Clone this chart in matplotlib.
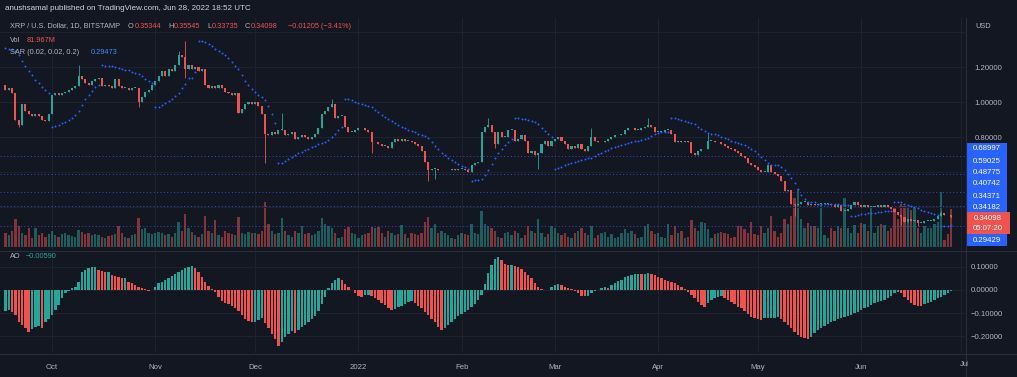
import numpy as np
import pandas as pd
import matplotlib
matplotlib.use('Agg')
import matplotlib.pyplot as plt
import matplotlib.dates as mdates
from matplotlib.patches import Rectangle
from matplotlib.lines import Line2D
from matplotlib.transforms import Bbox

# ---- data (XRP/USD daily, Bitstamp) ----
start_day = '2021-09-17'
first_open = 1.10
last_open = 0.35344

close_sep = [1.07, 1.08, 1.05, 0.90, 0.87, 0.99, 0.95, 0.93, 0.92, 0.93, 0.92, 0.90, 0.89, 0.93]
close_oct = [1.04, 1.05, 1.04, 1.05, 1.06, 1.07, 1.08, 1.09, 1.15, 1.13, 1.11, 1.10, 1.12, 1.13, 1.14, 1.09,
             1.10, 1.09, 1.08, 1.13, 1.09, 1.08, 1.08, 1.07, 1.08, 1.08, 1.00, 1.03, 1.06, 1.07, 1.10]
close_nov = [1.12, 1.15, 1.18, 1.15, 1.19, 1.18, 1.21, 1.27, 1.26, 1.19, 1.21, 1.19, 1.20, 1.18, 1.19, 1.10,
             1.08, 1.09, 1.08, 1.10, 1.08, 1.06, 1.05, 1.04, 1.05, 0.94, 0.96, 0.99, 1.00, 0.99]
close_dec = [1.00, 0.98, 0.93, 0.82, 0.81, 0.83, 0.82, 0.84, 0.84, 0.81, 0.82, 0.83, 0.79, 0.80, 0.81, 0.80,
             0.79, 0.80, 0.82, 0.85, 0.93, 0.95, 0.97, 0.99, 0.91, 0.92, 0.92, 0.86, 0.83, 0.83, 0.84]
close_jan = [0.85, 0.85, 0.84, 0.83, 0.77, 0.77, 0.76, 0.75, 0.75, 0.74, 0.77, 0.79, 0.78, 0.79, 0.78, 0.78,
             0.77, 0.76, 0.75, 0.72, 0.66, 0.61, 0.62, 0.62, 0.61, 0.61, 0.61, 0.61, 0.62, 0.61, 0.62]
close_feb = [0.62, 0.61, 0.60, 0.64, 0.65, 0.66, 0.83, 0.86, 0.87, 0.83, 0.76, 0.83, 0.80, 0.80, 0.84, 0.84,
             0.78, 0.79, 0.81, 0.78, 0.71, 0.72, 0.70, 0.71, 0.76, 0.78, 0.75, 0.78]
close_mar = [0.79, 0.80, 0.78, 0.76, 0.73, 0.75, 0.74, 0.76, 0.73, 0.72, 0.75, 0.80, 0.78, 0.77, 0.77, 0.78,
             0.79, 0.80, 0.81, 0.81, 0.82, 0.84, 0.85, 0.85, 0.84, 0.84, 0.85, 0.86, 0.87, 0.86, 0.83]
close_apr = [0.83, 0.83, 0.84, 0.84, 0.82, 0.77, 0.78, 0.77, 0.78, 0.77, 0.71, 0.70, 0.72, 0.73, 0.73, 0.78,
             0.78, 0.77, 0.77, 0.76, 0.75, 0.74, 0.73, 0.72, 0.71, 0.69, 0.68, 0.65, 0.64, 0.63]
close_may = [0.61, 0.60, 0.60, 0.64, 0.60, 0.59, 0.58, 0.55, 0.49, 0.50, 0.42, 0.41, 0.42, 0.43, 0.43, 0.41,
             0.42, 0.41, 0.42, 0.42, 0.42, 0.42, 0.41, 0.40, 0.41, 0.38, 0.38, 0.39, 0.41, 0.43, 0.41]
close_jun = [0.40, 0.41, 0.40, 0.40, 0.40, 0.41, 0.40, 0.41, 0.40, 0.39, 0.37, 0.355, 0.345, 0.315, 0.33, 0.32,
             0.325, 0.31, 0.31, 0.32, 0.32, 0.32, 0.33, 0.35, 0.365, 0.357, 0.35303, 0.34098]

# notable wick extremes
wick_high = {'2021-10-09': 1.21, '2021-11-08': 1.29, '2021-11-10': 1.35, '2021-12-09': 0.94,
             '2021-12-24': 1.02, '2022-02-09': 0.91, '2022-03-12': 0.85, '2022-03-29': 0.91,
             '2022-04-16': 0.82, '2022-06-25': 0.38, '2022-06-28': 0.35545}
wick_low = {'2021-09-21': 0.86, '2021-10-27': 0.97, '2021-11-10': 1.14, '2021-12-04': 0.65,
            '2022-01-05': 0.71, '2022-01-22': 0.55, '2022-01-24': 0.56, '2022-02-11': 0.74,
            '2022-02-24': 0.62, '2022-05-12': 0.35, '2022-06-13': 0.30, '2022-06-18': 0.2894,
            '2022-06-28': 0.33735}

# volume, millions
vol_sep = [30, 25, 35, 60, 45, 30, 25, 42, 20, 40, 25, 30, 22, 28]
vol_oct = [35, 25, 22, 28, 30, 26, 24, 22, 37, 32, 28, 30, 25, 28, 26, 22, 20, 24, 26, 28, 45, 30, 22, 20, 25,
           28, 63, 38, 40, 30, 28]
vol_nov = [30, 32, 30, 25, 28, 22, 30, 55, 35, 72, 40, 32, 25, 22, 28, 67, 35, 30, 58, 25, 22, 35, 30, 28, 25,
           65, 30, 28, 32, 30]
vol_dec = [30, 28, 35, 98, 50, 35, 28, 30, 63, 35, 25, 22, 35, 30, 45, 28, 30, 25, 28, 35, 63, 50, 45, 40, 30,
           20, 22, 38, 43, 30, 28]
vol_jan = [20, 25, 28, 30, 43, 40, 43, 30, 22, 35, 30, 25, 28, 48, 28, 20, 30, 28, 25, 30, 55, 65, 40, 50, 30,
           35, 30, 25, 20, 18, 25]
vol_feb = [30, 28, 25, 50, 30, 28, 78, 50, 45, 40, 35, 22, 20, 30, 32, 25, 35, 30, 20, 25, 45, 35, 30, 60, 30,
           22, 28, 45]
vol_mar = [40, 30, 25, 30, 22, 20, 30, 35, 42, 30, 25, 45, 20, 25, 30, 32, 22, 28, 20, 22, 30, 38, 30, 35, 28,
           20, 22, 45, 50, 35, 28]
vol_apr = [30, 22, 20, 50, 25, 45, 30, 35, 20, 22, 58, 40, 35, 55, 52, 38, 20, 28, 30, 32, 30, 28, 20, 22, 45,
           45, 38, 30, 55, 28]
vol_may = [25, 45, 30, 40, 67, 35, 22, 30, 60, 50, 68, 106, 125, 60, 40, 52, 45, 45, 40, 90, 25, 20, 40, 35, 45,
           40, 106, 40, 30, 48, 30]
vol_jun = [52, 50, 35, 86, 30, 45, 50, 48, 35, 40, 86, 60, 93, 88, 85, 80, 85, 40, 30, 45, 40, 42, 50, 55, 119,
           15, 28, 81.967]

# Awesome Oscillator
ao_sep = [-0.090, -0.088, -0.094, -0.109, -0.138, -0.152, -0.167, -0.181, -0.170, -0.162, -0.155, -0.165,
          -0.140, -0.125]
ao_oct = [-0.109, -0.087, -0.065, -0.036, -0.014, -0.004, 0.007, 0.014, 0.036, 0.080, 0.087, 0.094, 0.099,
          0.100, 0.087, 0.083, 0.077, 0.080, 0.065, 0.062, 0.055, 0.051, 0.054, 0.036, 0.029, 0.022, 0.014,
          0.010, 0.004, -0.004, -0.002]
ao_nov = [0.014, 0.029, 0.036, 0.043, 0.054, 0.062, 0.070, 0.080, 0.087, 0.094, 0.101, 0.106, 0.094, 0.080,
          0.058, 0.036, 0.019, 0.004, -0.010, -0.029, -0.046, -0.055, -0.059, -0.068, -0.077, -0.091, -0.109,
          -0.126, -0.135, -0.141]
ao_dec = [-0.138, -0.130, -0.123, -0.145, -0.165, -0.190, -0.215, -0.242, -0.225, -0.205, -0.190, -0.178,
          -0.185, -0.172, -0.160, -0.150, -0.140, -0.128, -0.112, -0.090, -0.060, -0.030, 0.010, 0.030, 0.045,
          0.050, 0.042, 0.028, 0.012, -0.002, -0.015]
ao_jan = [-0.025, -0.030, -0.022, -0.020, -0.025, -0.035, -0.045, -0.055, -0.065, -0.078, -0.088, -0.082,
          -0.075, -0.068, -0.060, -0.052, -0.048, -0.055, -0.068, -0.080, -0.095, -0.110, -0.125, -0.140,
          -0.160, -0.174, -0.165, -0.152, -0.140, -0.128, -0.115]
ao_feb = [-0.105, -0.095, -0.085, -0.072, -0.060, -0.045, -0.020, 0.028, 0.072, 0.108, 0.133, 0.142, 0.130,
          0.113, 0.108, 0.110, 0.104, 0.098, 0.092, 0.080, 0.065, 0.050, 0.030, 0.014, 0.004, 0.002, 0.001, 0.012]
ao_mar = [0.022, 0.025, 0.020, 0.015, 0.010, 0.005, -0.005, -0.012, -0.025, -0.026, -0.024, -0.015, -0.005,
          0.002, 0.007, 0.012, 0.010, 0.020, 0.030, 0.038, 0.045, 0.055, 0.062, 0.065, 0.068, 0.070, 0.069,
          0.071, 0.072, 0.068, 0.064]
ao_apr = [0.058, 0.050, 0.045, 0.039, 0.036, 0.029, 0.022, 0.014, 0.004, -0.007, -0.022, -0.036, -0.051,
          -0.065, -0.072, -0.058, -0.043, -0.036, -0.029, -0.025, -0.036, -0.043, -0.051, -0.062, -0.072,
          -0.080, -0.091, -0.105, -0.116, -0.123]
ao_may = [-0.127, -0.129, -0.123, -0.122, -0.121, -0.120, -0.118, -0.125, -0.138, -0.152, -0.167, -0.181,
          -0.196, -0.203, -0.210, -0.213, -0.203, -0.188, -0.174, -0.164, -0.156, -0.149, -0.141, -0.135,
          -0.126, -0.120, -0.116, -0.111, -0.107, -0.101, -0.094]
ao_jun = [-0.087, -0.080, -0.072, -0.065, -0.058, -0.053, -0.048, -0.043, -0.036, -0.028, -0.012, -0.008,
          -0.015, -0.029, -0.043, -0.058, -0.065, -0.068, -0.069, -0.063, -0.058, -0.051, -0.043, -0.036,
          -0.029, -0.022, -0.014, -0.0059]

sar_start = 1.31
level_lines = [0.68997, 0.59025, 0.48775, 0.40742, 0.29429]
scale_marks = ['0.68997', '0.59025', '0.48775', '0.40742', '0.34371', '0.34182']
low_mark = '0.29429'
countdown = '05:07:20'
price_ticks = [0.8, 1.0, 1.2]
ao_ticks = [-0.2, -0.1, 0.0, 0.1]
month_ticks = ['2021-10-01', '2021-11-01', '2021-12-01', '2022-01-01', '2022-02-01', '2022-03-01',
               '2022-04-01', '2022-05-01', '2022-06-01']
month_labels = ['Oct', 'Nov', 'Dec', '2022', 'Feb', 'Mar', 'Apr', 'May', 'Jun']

closes = np.array(close_sep + close_oct + close_nov + close_dec + close_jan + close_feb + close_mar
                  + close_apr + close_may + close_jun)
volume = np.array(vol_sep + vol_oct + vol_nov + vol_dec + vol_jan + vol_feb + vol_mar + vol_apr
                  + vol_may + vol_jun, dtype=float)
ao = np.array(ao_sep + ao_oct + ao_nov + ao_dec + ao_jan + ao_feb + ao_mar + ao_apr + ao_may + ao_jun)
n = len(closes)
assert len(volume) == n and len(ao) == n, (n, len(volume), len(ao))

days = pd.date_range(start_day, periods=n, freq='D')
xd = mdates.date2num(days)
opens = np.concatenate([[first_open], closes[:-1]])
opens[-1] = last_open
highs = np.maximum(opens, closes)
lows = np.minimum(opens, closes)
keys = list(days.strftime('%Y-%m-%d'))
for k, v in wick_high.items():
    i = keys.index(k)
    highs[i] = max(highs[i], v)
for k, v in wick_low.items():
    i = keys.index(k)
    lows[i] = min(lows[i], v)


def parabolic_sar(hi, lo, sar0, step=0.02, amax=0.2):
    out = np.empty(len(hi))
    up = False
    sar = sar0
    ep = lo[0]
    af = step
    out[0] = sar
    for i in range(1, len(hi)):
        sar = sar + af * (ep - sar)
        if up:
            sar = min(sar, lo[i - 1], lo[max(i - 2, 0)])
            if lo[i] < sar:
                up, sar, ep, af = False, ep, lo[i], step
            elif hi[i] > ep:
                ep, af = hi[i], min(af + step, amax)
        else:
            sar = max(sar, hi[i - 1], hi[max(i - 2, 0)])
            if hi[i] > sar:
                up, sar, ep, af = True, ep, hi[i], step
            elif lo[i] < ep:
                ep, af = lo[i], min(af + step, amax)
        out[i] = sar
    return out


sar = parabolic_sar(highs, lows, sar_start)

# ---- styling ----
W, H = 1017, 377
BG = '#131722'
GRID = '#1e222d'
TXT = '#b2b5be'
GREEN = '#26a69a'
RED = '#ef5350'
BLUE = '#2962ff'
plt.rcParams['font.family'] = ['Liberation Sans', 'DejaVu Sans']


def fx(px):
    return px / W


def fy(py):
    return 1 - py / H


fig = plt.figure(figsize=(W / 100, H / 100), dpi=100)
fig.patch.set_facecolor(BG)

price_rect = [0, fy(250), fx(965), fy(18) - fy(250)]
ao_rect = [0, fy(353), fx(965), fy(252) - fy(353)]

axv = fig.add_axes(price_rect)
ax = fig.add_axes(price_rect, sharex=axv)
axo = fig.add_axes(ao_rect, sharex=axv)

oct1 = mdates.date2num(pd.Timestamp('2021-10-01'))
ppd = 3.33
xmin = oct1 - 52 / ppd
xmax = xmin + 965 / ppd

for a in (axv, ax, axo):
    a.set_facecolor(BG)
    for s in a.spines.values():
        s.set_visible(False)
    a.tick_params(length=0, colors=TXT, labelsize=5.6)
ax.patch.set_alpha(0)
axv.set_xlim(xmin, xmax)

mt = mdates.date2num(pd.to_datetime(month_ticks))
# grids
for m in list(mt) + [mdates.date2num(pd.Timestamp('2022-07-01'))]:
    axv.axvline(m, color=GRID, lw=0.8, zorder=0)
    axo.axvline(m, color=GRID, lw=0.8, zorder=0)

# volume
up_mask = closes >= opens
vcol = np.where(up_mask, GREEN, RED)
axv.bar(xd, volume, width=0.7, color=vcol, alpha=0.5, linewidth=0, zorder=1)
axv.set_ylim(-6.5, 494.6)
axv.set_yticks([])
axv.tick_params(labelbottom=False)

# price grid lines
for g in [0.4, 0.6, 0.8, 1.0, 1.2, 1.4]:
    ax.axhline(g, color=GRID, lw=0.8, zorder=0)
for lv in level_lines:
    ax.axhline(lv, color='#3d5afe', lw=0.7, ls=(0, (1, 2.5)), alpha=0.8, zorder=1)

# candles
ccol = np.where(up_mask, GREEN, RED)
ax.vlines(xd, lows, highs, colors=ccol, lw=0.6, zorder=3)
body_lo = np.minimum(opens, closes)
body_h = np.maximum(np.abs(closes - opens), 0.003)
ax.bar(xd, body_h, bottom=body_lo, width=0.62, color=ccol, linewidth=0, zorder=4)

# parabolic SAR
ax.plot(xd, sar, ls='none', marker='o', ms=1.4, mew=0, color=BLUE, zorder=5)

ax.set_ylim(0.1543, 1.48)
ax.yaxis.tick_right()
ax.set_yticks(price_ticks)
ax.set_yticklabels(['%.5f' % t for t in price_ticks])
ax.tick_params(axis='y', pad=7)
ax.tick_params(labelbottom=False)

# AO
ao_col = [GREEN] + [GREEN if ao[i] >= ao[i - 1] else RED for i in range(1, n)]
for g in ao_ticks:
    axo.axhline(g, color=GRID, lw=0.8, zorder=0)
axo.bar(xd, ao, width=0.72, color=ao_col, linewidth=0, zorder=2)
axo.set_ylim(-0.2739, 0.1652)
axo.yaxis.tick_right()
axo.set_yticks(ao_ticks)
axo.set_yticklabels(['%.5f' % t if t >= 0 else '\u2212%.5f' % -t for t in ao_ticks])
axo.tick_params(axis='y', pad=4)
axo.set_xticks(mt)
axo.set_xticklabels(month_labels)
axo.tick_params(axis='x', pad=8)

jul = fig.text(fx(960), fy(365), 'Jul', color=TXT, fontsize=5.6, va='center', ha='left')
jul.set_clip_on(True)
jul.set_clip_box(Bbox.from_extents(0, 0, 968, H))

# separators
fig.add_artist(Line2D([fx(966), fx(966)], [fy(18), fy(377)], color='#2a2e39', lw=0.8))
fig.add_artist(Line2D([0, 1], [fy(251), fy(251)], color='#2a2e39', lw=0.8))
fig.add_artist(Line2D([0, 1], [fy(354), fy(354)], color='#2a2e39', lw=0.8))

# header + legends
fig.text(fx(5), fy(9), 'anushsamal published on TradingView.com, Jun 28, 2022 18:52 UTC',
         color='#d1d4dc', fontsize=5.8, va='center')
fs = 5.3
yl = fy(26)
fig.text(fx(10), yl, 'XRP / U.S. Dollar, 1D, BITSTAMP', color=TXT, fontsize=fs, va='center')
for lab, px, val, vx in [('O', 128, opens[-1], 135), ('H', 168, highs[-1], 174),
                         ('L', 207, lows[-1], 212), ('C', 245, closes[-1], 251)]:
    fig.text(fx(px), yl, lab, color=TXT, fontsize=fs, va='center')
    fig.text(fx(vx), yl, '%.5f' % val, color=RED, fontsize=fs, va='center')
chg = closes[-1] - closes[-2]
fig.text(fx(288), yl, '\u2212%.5f (\u2212%.2f%%)' % (-chg, -chg / closes[-2] * 100), color=RED,
         fontsize=fs, va='center')
fig.text(fx(10), fy(40), 'Vol', color=TXT, fontsize=fs, va='center')
fig.text(fx(27), fy(40), '%.3fM' % volume[-1], color=RED, fontsize=fs, va='center')
fig.text(fx(10), fy(52), 'SAR (0.02, 0.02, 0.2)', color=TXT, fontsize=fs, va='center')
fig.text(fx(91), fy(52), '%.5f' % sar[-1], color='#448aff', fontsize=fs, va='center')
fig.text(fx(10), fy(257), 'AO', color=TXT, fontsize=fs, va='center')
fig.text(fx(26), fy(257), '\u2212%.5f' % -ao[-1], color=GREEN, fontsize=fs, va='center')
fig.text(fx(975), fy(26), 'USD', color=TXT, fontsize=fs, va='center')

# price-scale marker boxes
fig.add_artist(Rectangle((fx(967), fy(246)), fx(40), fy(143) - fy(246), color=BLUE, lw=0))
for lab, py in zip(scale_marks, [149, 161, 172, 184, 196, 207]):
    fig.text(fx(987), fy(py), lab, color='white', fontsize=5.6, ha='center', va='center')
fig.add_artist(Rectangle((fx(967), fy(234)), fx(43), fy(212) - fy(234), color=RED, lw=0))
fig.text(fx(988), fy(219), '%.5f' % closes[-1], color='white', fontsize=5.6, ha='center', va='center')
fig.text(fx(988), fy(229), countdown, color='white', fontsize=5.6, ha='center', va='center')
fig.text(fx(987), fy(240), low_mark, color='white', fontsize=5.6, ha='center', va='center')

fig.savefig('out.png', dpi=100, facecolor=BG)
